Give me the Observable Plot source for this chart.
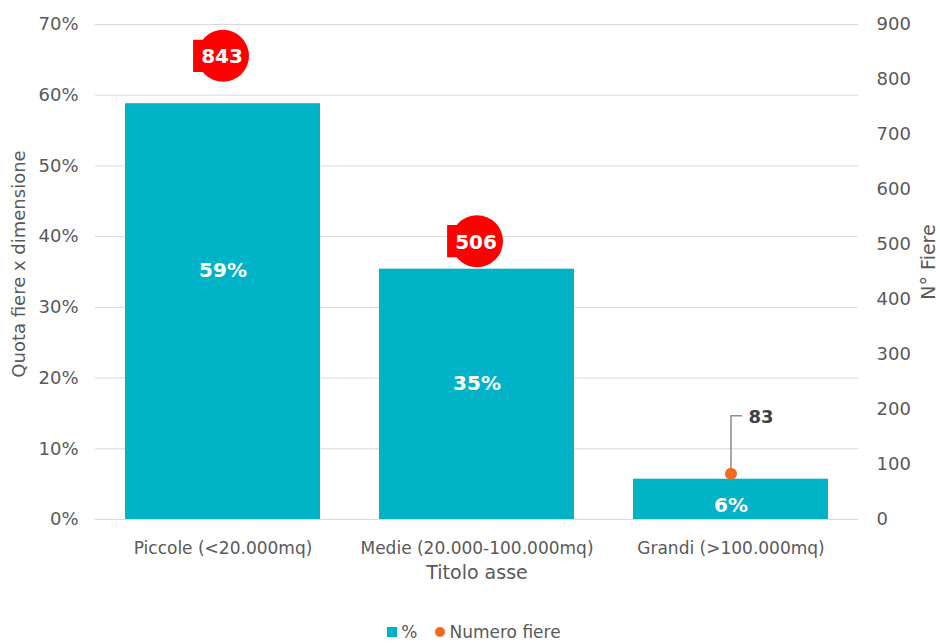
<!DOCTYPE html>
<html>
<head>
<meta charset="utf-8">
<script src="https://cdn.jsdelivr.net/npm/d3@7"></script>
<script src="https://cdn.jsdelivr.net/npm/@observablehq/plot@0.6"></script>
<style>
  html, body { margin: 0; padding: 0; background: #fff; overflow: hidden; }
  #chart { width: 940px; }
  .legend { display: flex; justify-content: center; align-items: center; font: 17px "DejaVu Sans", sans-serif; color: #595959; height: 20px; line-height: 20px; margin-top: 2px; padding-left: 8px; }
  .legend .sw { display: inline-block; width: 10px; height: 10px; margin-right: 4px; }
  .legend .item { display: flex; align-items: center; margin: 0 9px; }
</style>
</head>
<body>
<div id="chart"></div>
<script>
const categories = ["Piccole (<20.000mq)", "Medie (20.000-100.000mq)", "Grandi (>100.000mq)"];
const pctValues = [0.588, 0.354, 0.057];
const pctLabels = ["59%", "35%", "6%"];
const numeroFiere = [843, 506, 83];
const leftTicks = [0, 0.1, 0.2, 0.3, 0.4, 0.5, 0.6, 0.7];
const rightTicks = [0, 100, 200, 300, 400, 500, 600, 700, 800, 900];

const teal = "#00B3C7";
const orange = "#F26A1E";
const red = "#FF0000";
const textGray = "#595959";
const k = 0.7 / 900; // secondary axis -> primary y scale

const data = categories.map((c, i) => ({
  cat: c, pct: pctValues[i], label: pctLabels[i], num: numeroFiere[i], y2: numeroFiere[i] * k, i
}));

const calloutSymbol = {
  draw(ctx, size) {
    const r = Math.sqrt(size / Math.PI);
    ctx.moveTo(r, 0);
    ctx.arc(0, 0, r, 0, 2 * Math.PI);
    ctx.moveTo(-1.15 * r, -0.62 * r);
    ctx.lineTo(0, -0.62 * r);
    ctx.lineTo(0, 0.62 * r);
    ctx.lineTo(-1.15 * r, 0.62 * r);
    ctx.closePath();
  }
};
const leaderSymbol = {
  draw(ctx, size) {
    ctx.moveTo(0, 0);
    ctx.lineTo(0, -58);
    ctx.lineTo(11, -58);
  }
};

const labelDy = [-41, -11, 6];

const plot = Plot.plot({
  width: 940,
  height: 620,
  marginLeft: 95,
  marginRight: 82,
  marginTop: 24,
  marginBottom: 101,
  style: { fontFamily: "'DejaVu Sans', sans-serif", color: textGray, background: "#fff" },
  x: { domain: categories, paddingInner: 0.233, paddingOuter: 0.1165, label: null },
  y: { domain: [0, 0.7], label: null },
  marks: [
    Plot.gridY(leftTicks, { stroke: "#D9D9D9", strokeOpacity: 1, strokeWidth: 1 }),
    Plot.axisY({ ticks: leftTicks, tickFormat: d => Math.round(d * 100) + "%", tickSize: 0, tickPadding: 17, fontSize: 18, fill: textGray, label: null }),
    Plot.axisY({ anchor: "right", ticks: rightTicks.map(v => v * k), tickFormat: d => String(Math.round(d / k)), tickSize: 0, tickPadding: 18, fontSize: 18, fill: textGray, label: null }),
    Plot.axisX({ tickSize: 0, tickPadding: 22, fontSize: 17, fill: textGray, label: null }),
    Plot.barY(data, { x: "cat", y: "pct", fill: teal }),
    Plot.ruleY([0], { stroke: "#D9D9D9" }),
    ...data.map((d, i) => Plot.text([d], { x: "cat", y: v => v.pct / 2, text: "label", fill: "#fff", fontWeight: "bold", fontSize: 20, dy: labelDy[i] })),
    Plot.dot(data.filter(d => d.i === 2), { x: "cat", y: "y2", symbol: leaderSymbol, r: 5, stroke: "#8C8C8C", strokeWidth: 1.5, fill: "none" }),
    Plot.dot(data, { x: "cat", y: "y2", r: 6, fill: orange, stroke: "none" }),
    Plot.dot(data.filter(d => d.i < 2), { x: "cat", y: "y2", symbol: calloutSymbol, r: 26, fill: red, stroke: "none" }),
    Plot.text(data.filter(d => d.i < 2), { x: "cat", y: "y2", text: d => String(d.num), fill: "#fff", fontWeight: "bold", fontSize: 20, dx: -1, dy: 1 }),
    Plot.text(data.filter(d => d.i === 2), { x: "cat", y: "y2", text: d => String(d.num), fill: "#404040", fontWeight: "bold", fontSize: 18, dx: 30, dy: -57 }),
    Plot.text(["Titolo asse"], { frameAnchor: "bottom", dy: 59, fontSize: 19, fill: textGray }),
    Plot.text(["Quota fiere x dimensione"], { frameAnchor: "left", textAnchor: "middle", rotate: -90, dx: -76, dy: -8, fontSize: 18, fill: textGray }),
    Plot.text(["N° Fiere"], { frameAnchor: "right", textAnchor: "middle", rotate: -90, dx: 70, dy: -10, fontSize: 19, fill: textGray })
  ]
});
document.getElementById("chart").appendChild(plot);

const legend = document.createElement("div");
legend.className = "legend";
legend.innerHTML =
  `<span class="item"><span class="sw" style="background:${teal}"></span>%</span>` +
  `<span class="item"><span class="sw" style="background:${orange};border-radius:50%"></span>Numero fiere</span>`;
document.getElementById("chart").appendChild(legend);
</script>
</body>
</html>
